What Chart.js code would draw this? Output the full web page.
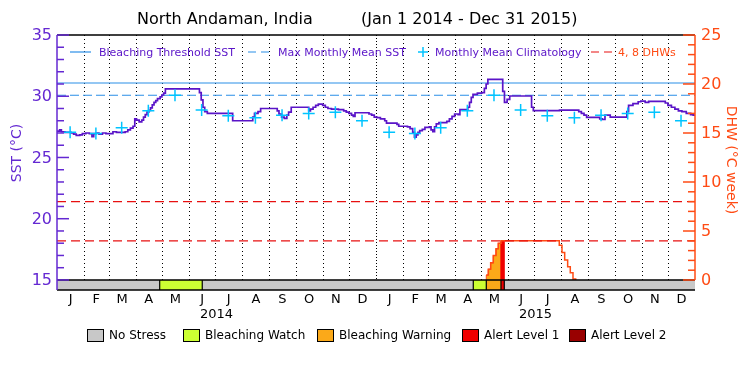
<!DOCTYPE html>
<html>
<head>
<meta charset="utf-8">
<script src="https://cdn.jsdelivr.net/npm/chart.js@4.4.1/dist/chart.umd.min.js"></script>
<style>
  html, body { margin: 0; padding: 0; background: #fff; }
  canvas { display: block; }
</style>
</head>
<body>
<canvas id="c" width="750" height="375"></canvas>
<script>
// ---- data (day 0 = Jan 1 2014, day 730 = Dec 31 2015) ----
const monthLetters = ["J", "F", "M", "A", "M", "J", "J", "A", "S", "O", "N", "D"];
const monthLengths = [31, 28, 31, 30, 31, 30, 31, 31, 30, 31, 30, 31];
const yearLabels = ["2014", "2015"];

// daily SST (stepped), value holds from that day on
const sstDays = [0, 3, 5, 9, 16, 19, 22, 26, 29, 33, 37, 40, 42, 45, 48, 52, 56, 60, 64, 68, 72, 78, 81, 84, 87,
  89, 91, 94, 97, 99, 101, 103, 105, 107, 109, 111, 113, 115, 118, 120, 122, 124, 163, 165, 167, 169, 172,
  201, 224, 226, 230, 233, 252, 254, 257, 260, 263, 265, 268, 288, 290, 293, 296, 299, 304, 307, 310, 314,
  322, 328, 331, 334, 337, 339, 341, 357, 360, 363, 366, 370, 375, 377, 389, 391, 401, 404, 407, 409, 411,
  413, 415, 418, 421, 426, 428, 430, 432, 434, 437, 446, 449, 452, 455, 459, 461, 470, 472, 474, 476, 481,
  486, 489, 491, 493, 510, 512, 515, 518, 543, 545, 575, 597, 600, 603, 606, 621, 624, 627, 633, 652, 654,
  659, 665, 668, 673, 677, 696, 699, 703, 707, 711, 715, 720, 725, 728, 730];
const sstValues = [27.15, 27.25, 27.1, 27.05, 27.0, 26.9, 26.8, 26.85, 26.95, 27.0, 26.95, 26.7, 26.95, 27.0, 26.9,
  27.0, 26.95, 26.95, 27.1, 27.05, 27.05, 27.1, 27.25, 27.4, 27.55,
  28.15, 28.05, 27.9, 28.05, 28.3, 28.5, 28.7, 28.85, 29.05, 29.3, 29.5, 29.65, 29.8, 29.95, 30.1, 30.25, 30.6,
  30.3, 29.7, 29.1, 28.75, 28.6,
  28.0, 28.3, 28.6, 28.75, 29.0, 28.8, 28.55, 28.3, 28.2, 28.45, 28.7, 29.1, 28.8, 28.95, 29.1, 29.25, 29.35,
  29.25, 29.1, 29.0, 28.95,
  28.9, 28.8, 28.7, 28.6, 28.45, 28.35, 28.65, 28.55, 28.45, 28.3, 28.25, 28.15, 28.0, 27.8, 27.7, 27.55,
  27.5, 27.35, 27.05, 26.65, 26.85,
  27.05, 27.2, 27.3, 27.45, 27.5, 27.25, 27.1, 27.5, 27.75, 27.85, 27.95, 28.15, 28.35, 28.55, 28.5, 28.9,
  29.1, 29.5, 29.9, 30.15, 30.25,
  30.3, 30.65, 31.0, 31.38, 30.4, 29.5, 29.75, 30.02, 29.1, 28.82, 28.87, 28.75, 28.6, 28.45, 28.28, 28.15,
  28.1, 28.45, 28.3, 28.75, 29.25,
  29.4, 29.55, 29.6, 29.5, 29.58, 29.45, 29.25, 29.1, 28.95, 28.8, 28.75, 28.6, 28.5, 28.45, 28.45];

// monthly mean climatology (Jan..Dec), same for both years
const climatology = [27.06, 26.95, 27.43, 28.82, 30.08, 28.88, 28.41, 28.25, 28.44, 28.6, 28.69, 28.0];
const maxMonthlyMean = 30.08;
const bleachingThreshold = 31.08;
const dhwRefLevels = [4, 8];

// degree heating weeks (stepped)
const dhwDays = [491.2, 493.5, 496.2, 499.2, 502.3, 504.9, 508, 574.7, 577.8, 580.9, 584.3, 587.3, 590.4, 593.5];
const dhwValues = [0.5, 1.1, 1.75, 2.5, 3.2, 3.75, 4.0, 3.55, 2.8, 2.05, 1.35, 0.75, 0.1, 0];

// bleaching alert status bar
const stressStart = [0, 117.5, 166.2, 476.3, 491.2, 508, 511.8];
const stressEnd = [117.5, 166.2, 476.3, 491.2, 508, 511.8, 730];
const stressLevel = [0, 1, 0, 1, 2, 3, 0];
const stressNames = ["No Stress", "Bleaching Watch", "Bleaching Warning", "Alert Level 1", "Alert Level 2"];
const stressColors = ["#c8c8c8", "#ccff33", "#fba919", "#f00000", "#990000"];

// ---- derived ----
const monthStarts = [];
let acc = 0;
for (let yr = 0; yr < 2; yr++) {
  monthLengths.forEach(len => { monthStarts.push(acc); acc += len; });
}
monthStarts.push(acc); // 730

const climPoints = [];
for (let i = 0; i < 24; i++) {
  const len = monthStarts[i + 1] - monthStarts[i];
  climPoints.push({ x: monthStarts[i] + (len - 1) / 2, y: climatology[i % 12] });
}

const sstPoints = sstDays.map((d, i) => ({ x: d, y: sstValues[i] }));
const dhwPoints = dhwDays.map((d, i) => ({ x: d, y: dhwValues[i] }));

function dhwAt(day) {
  let v = 0;
  dhwDays.forEach((d, i) => { if (d <= day) v = dhwValues[i]; });
  return v;
}

// filled DHW under warning / alert periods
function fillFor(level) {
  const pts = [];
  stressLevel.forEach((lv, i) => {
    if (lv !== level) return;
    const s = stressStart[i], e = stressEnd[i];
    pts.push({ x: s, y: 0 }, { x: s, y: dhwAt(s) });
    dhwDays.forEach((d, j) => { if (d > s && d < e) pts.push({ x: d, y: dhwValues[j] }); });
    pts.push({ x: e, y: 0 });
  });
  return pts;
}

const PURPLE = "#5a14c8";
const AXIS_PURPLE = "#6428d2";
const BLUE = "#2b8fe8";
const CYAN = "#00c4ff";
const ORANGE = "#ff4b14";
const RED = "#e81010";
const FONT = "'DejaVu Sans ExtraLight', 'DejaVu Sans', sans-serif";

const flat = (v) => [{ x: 0, y: v }, { x: 730, y: v }];

const frame = {
  id: "frame",
  beforeDatasetsDraw(chart) {
    const { ctx, chartArea: a, scales: { x, y1 } } = chart;
    const zero = y1.getPixelForValue(0);
    ctx.save();
    ctx.strokeStyle = "#000";
    ctx.lineWidth = 1;
    monthStarts.forEach(d => {
      if (d <= 0 || d >= 730) return;
      const px = Math.round(x.getPixelForValue(d)) + 0.5;
      ctx.setLineDash(d === 365 ? [1, 2] : [1, 3]);
      ctx.beginPath();
      ctx.moveTo(px, a.top);
      ctx.lineTo(px, zero);
      ctx.stroke();
    });
    ctx.restore();
  },
  afterDatasetsDraw(chart) {
    const { ctx, chartArea: a, scales: { x, y, y1 } } = chart;
    const zero = y1.getPixelForValue(0);
    ctx.save();

    // status bar
    stressLevel.forEach((lv, i) => {
      const x0 = x.getPixelForValue(stressStart[i]);
      const x1 = x.getPixelForValue(stressEnd[i]);
      ctx.fillStyle = stressColors[lv];
      ctx.fillRect(x0, zero, x1 - x0, a.bottom - zero);
    });
    ctx.strokeStyle = "#000";
    ctx.lineWidth = 1.2;
    stressStart.forEach(s => {
      if (s <= 0) return;
      const px = x.getPixelForValue(s);
      ctx.beginPath(); ctx.moveTo(px, zero); ctx.lineTo(px, a.bottom); ctx.stroke();
    });
    ctx.lineWidth = 1.5;
    ctx.beginPath();
    ctx.moveTo(a.left, zero); ctx.lineTo(a.right, zero);
    ctx.moveTo(a.left, a.bottom); ctx.lineTo(a.right, a.bottom);
    ctx.moveTo(a.left, a.top); ctx.lineTo(a.right, a.top);
    ctx.stroke();

    // left SST axis
    ctx.strokeStyle = AXIS_PURPLE;
    ctx.lineWidth = 1.5;
    ctx.beginPath(); ctx.moveTo(a.left, a.top); ctx.lineTo(a.left, a.bottom); ctx.stroke();
    ctx.fillStyle = AXIS_PURPLE;
    ctx.font = "16px " + FONT;
    ctx.textAlign = "right";
    ctx.textBaseline = "middle";
    for (let v = 15; v <= 35; v++) {
      const py = y.getPixelForValue(v);
      const len = v % 5 === 0 ? 12 : 7;
      ctx.beginPath(); ctx.moveTo(a.left, py); ctx.lineTo(a.left + len, py); ctx.stroke();
      if (v % 5 === 0) ctx.fillText(String(v), a.left - 5, py + 1);
    }

    // right DHW axis
    ctx.strokeStyle = ORANGE;
    ctx.fillStyle = ORANGE;
    ctx.beginPath(); ctx.moveTo(a.right, a.top); ctx.lineTo(a.right, zero); ctx.stroke();
    ctx.textAlign = "left";
    for (let v = 0; v <= 25; v++) {
      const py = y1.getPixelForValue(v);
      const len = v % 5 === 0 ? 12 : 7;
      ctx.beginPath(); ctx.moveTo(a.right, py); ctx.lineTo(a.right - len, py); ctx.stroke();
      if (v % 5 === 0) ctx.fillText(String(v), a.right + 6, py + 1);
    }

    // axis titles
    ctx.font = "14px " + FONT;
    ctx.textAlign = "center";
    ctx.fillStyle = AXIS_PURPLE;
    ctx.save();
    ctx.translate(17, 153); ctx.rotate(-Math.PI / 2);
    ctx.fillText("SST (°C)", 0, 0);
    ctx.restore();
    ctx.fillStyle = ORANGE;
    ctx.save();
    ctx.translate(731, 160); ctx.rotate(Math.PI / 2);
    ctx.fillText("DHW (°C week)", 0, 0);
    ctx.restore();

    // month and year labels
    ctx.fillStyle = "#000";
    ctx.font = "13px " + FONT;
    for (let i = 0; i < 24; i++) {
      const mid = (monthStarts[i] + monthStarts[i + 1]) / 2;
      ctx.fillText(monthLetters[i % 12], x.getPixelForValue(mid), a.bottom + 10);
    }
    yearLabels.forEach((lbl, i) => {
      ctx.fillText(lbl, x.getPixelForValue(365 * i + 182.5), a.bottom + 25);
    });

    // title
    ctx.font = "16px " + FONT;
    ctx.textAlign = "left";
    ctx.fillText("North Andaman, India", 137, 20);
    ctx.fillText("(Jan 1 2014 - Dec 31 2015)", 361, 20);

    // top legend
    const ly = 52;
    ctx.font = "11px " + FONT;
    ctx.lineWidth = 1.2;
    ctx.strokeStyle = BLUE;
    ctx.beginPath(); ctx.moveTo(70, ly); ctx.lineTo(91, ly); ctx.stroke();
    ctx.setLineDash([8, 5]);
    ctx.beginPath(); ctx.moveTo(248, ly); ctx.lineTo(273, ly); ctx.stroke();
    ctx.strokeStyle = RED;
    ctx.beginPath(); ctx.moveTo(591, ly); ctx.lineTo(614, ly); ctx.stroke();
    ctx.setLineDash([]);
    ctx.strokeStyle = CYAN;
    ctx.lineWidth = 1.5;
    ctx.beginPath(); ctx.moveTo(418, ly); ctx.lineTo(428, ly); ctx.moveTo(423, ly - 5); ctx.lineTo(423, ly + 5); ctx.stroke();
    ctx.fillStyle = PURPLE;
    ctx.fillText("Bleaching Threshold SST", 99, ly + 1);
    ctx.fillText("Max Monthly Mean SST", 278, ly + 1);
    ctx.fillText("Monthly Mean Climatology", 435, ly + 1);
    ctx.fillStyle = ORANGE;
    ctx.fillText("4, 8 DHWs", 618, ly + 1);

    // bottom legend
    const boxX = [87, 183, 317, 462, 569];
    ctx.font = "12px " + FONT;
    ctx.lineWidth = 1;
    ctx.strokeStyle = "#000";
    stressNames.forEach((name, i) => {
      ctx.fillStyle = stressColors[i];
      ctx.fillRect(boxX[i], 329, 16, 12);
      ctx.strokeRect(boxX[i] + 0.5, 329.5, 16, 12);
      ctx.fillStyle = "#000";
      ctx.fillText(name, boxX[i] + 22, 336);
    });

    ctx.restore();
  }
};

new Chart(document.getElementById("c"), {
  type: "line",
  data: {
    datasets: [
      { data: climPoints, showLine: false, pointStyle: "cross", pointRadius: 6, pointBorderColor: CYAN,
        pointBorderWidth: 1.5, borderColor: CYAN, yAxisID: "y", order: 0 },
      { data: sstPoints, stepped: true, borderColor: PURPLE, borderWidth: 1.7, pointRadius: 0, yAxisID: "y", order: 1 },
      { data: flat(bleachingThreshold), borderColor: BLUE, borderWidth: 1.2, pointRadius: 0, yAxisID: "y", order: 2 },
      { data: flat(maxMonthlyMean), borderColor: BLUE, borderWidth: 1.2, borderDash: [9, 4], pointRadius: 0, yAxisID: "y", order: 2 },
      { data: flat(dhwRefLevels[0]), borderColor: RED, borderWidth: 1.2, borderDash: [9, 5], pointRadius: 0, yAxisID: "y1", order: 3 },
      { data: flat(dhwRefLevels[1]), borderColor: RED, borderWidth: 1.2, borderDash: [9, 5], pointRadius: 0, yAxisID: "y1", order: 3 },
      { data: dhwPoints, stepped: true, borderColor: ORANGE, borderWidth: 1.5, pointRadius: 0, yAxisID: "y1", order: 4 },
      { data: fillFor(3), stepped: true, fill: "origin", backgroundColor: stressColors[3], borderColor: stressColors[3],
        borderWidth: 1, pointRadius: 0, yAxisID: "y1", order: 5 },
      { data: fillFor(2), stepped: true, fill: "origin", backgroundColor: stressColors[2], borderColor: ORANGE,
        borderWidth: 1, pointRadius: 0, yAxisID: "y1", order: 6 }
    ]
  },
  options: {
    responsive: false,
    animation: false,
    layout: { padding: { left: 57, right: 55, top: 35, bottom: 85 } },
    plugins: { legend: { display: false }, tooltip: { enabled: false } },
    scales: {
      x: { type: "linear", min: 0, max: 730, display: false },
      y: { type: "linear", min: 14.18, max: 35, display: false },
      y1: { type: "linear", min: -1.02, max: 25, display: false, position: "right" }
    }
  },
  plugins: [frame]
});
</script>
</body>
</html>
